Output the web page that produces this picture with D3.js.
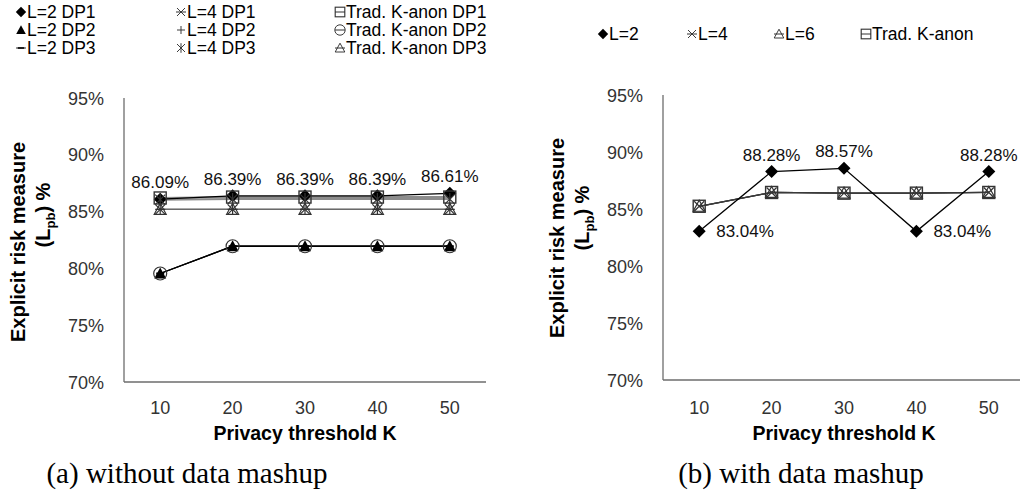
<!DOCTYPE html>
<html><head><meta charset="utf-8">
<script src="https://cdn.jsdelivr.net/npm/d3@7"></script>
<style>body{margin:0;background:#fff}svg{display:block}</style>
</head><body>
<svg id="c" width="1020" height="497"></svg>
<script>
// ---------- data ----------
const categories = ["10", "20", "30", "40", "50"];
const yTicks = [70, 75, 80, 85, 90, 95];

// (a) without data mashup
const aL2DP1 = [86.09, 86.39, 86.39, 86.39, 86.61];
const aL2DP2 = [79.55, 81.95, 81.95, 81.95, 81.95];
const aL2DP3 = [79.55, 81.95, 81.95, 81.95, 81.95];
const aL4DP1 = [85.2, 85.2, 85.2, 85.2, 85.2];
const aL4DP2 = [85.2, 85.2, 85.2, 85.2, 85.2];
const aL4DP3 = [86.05, 86.1, 86.1, 86.1, 86.1];
const aTradDP1 = [86.2, 86.28, 86.28, 86.28, 86.28];
const aTradDP2 = [79.55, 81.95, 81.95, 81.95, 81.95];
const aTradDP3 = [85.2, 85.2, 85.2, 85.2, 85.2];
const aLabels = ["86.09%", "86.39%", "86.39%", "86.39%", "86.61%"];

// (b) with data mashup
const bL2 = [83.04, 88.28, 88.57, 83.04, 88.28];
const bL4 = [85.24, 86.45, 86.39, 86.39, 86.45];
const bL6 = [85.24, 86.45, 86.39, 86.39, 86.45];
const bTrad = [85.24, 86.45, 86.39, 86.39, 86.45];
const bLabels = ["83.04%", "88.28%", "88.57%", "83.04%", "88.28%"];

// ---------- drawing ----------
const svg = d3.select("#c");
const FONT = "'Liberation Sans', Arial, sans-serif";

function marker(g, type, x, y, color) {
  const m = g.append("g").attr("transform", `translate(${x},${y})`);
  const c = color || "#000";
  switch (type) {
    case "diamond":
      m.append("path").attr("d", "M0,-6.5L6.5,0L0,6.5L-6.5,0Z").attr("fill", "#000"); break;
    case "triF":
      m.append("path").attr("d", "M0,-6L6,5L-6,5Z").attr("fill", "#000"); break;
    case "dash":
      m.append("path").attr("d", "M-4,0H4").attr("stroke", "#000").attr("stroke-width", 2); break;
    case "x":
      m.append("path").attr("d", "M-5,-5L5,5M-5,5L5,-5").attr("stroke", c).attr("stroke-width", 1.2).attr("fill", "none"); break;
    case "plus":
      m.append("path").attr("d", "M-5,0H5M0,-5V5").attr("stroke", c).attr("stroke-width", 1.2).attr("fill", "none"); break;
    case "star":
      m.append("path").attr("d", "M-5,-5L5,5M-5,5L5,-5M0,-6V6").attr("stroke", c).attr("stroke-width", 1.2).attr("fill", "none"); break;
    case "square":
      m.append("rect").attr("x", -6).attr("y", -6).attr("width", 12).attr("height", 12).attr("stroke", c).attr("stroke-width", 1.4).attr("fill", "none"); break;
    case "circle":
      m.append("circle").attr("r", 6.5).attr("stroke", c).attr("stroke-width", 1.2).attr("fill", "none"); break;
    case "triO":
      m.append("path").attr("d", "M0,-6L6,5L-6,5Z").attr("stroke", c).attr("stroke-width", 1.2).attr("fill", "none"); break;
  }
}

function panel(opts) {
  const x = d3.scaleBand().domain(categories).range([opts.x0, opts.x1]);
  const y = d3.scaleLinear().domain([70, 95]).range([opts.yb, opts.yt]);
  const g = svg.append("g");
  const cx = d => x(d) + x.bandwidth() / 2;

  // axes
  g.append("line").attr("x1", opts.x0).attr("x2", opts.x0).attr("y1", y(70)).attr("y2", y(95))
    .attr("stroke", "#6d6d6d").attr("stroke-width", 1.3);
  g.append("line").attr("x1", opts.x0).attr("x2", opts.x1).attr("y1", y(70)).attr("y2", y(70))
    .attr("stroke", "#6d6d6d").attr("stroke-width", 1.3);

  g.selectAll(".yt").data(yTicks).enter().append("text")
    .attr("x", opts.x0 - 20).attr("y", d => y(d) + 6.5)
    .attr("text-anchor", "end").attr("font-family", FONT).attr("font-size", 18).attr("fill", "#333")
    .text(d => d + "%");
  g.selectAll(".xt").data(categories).enter().append("text")
    .attr("x", d => cx(d)).attr("y", opts.xLabelY)
    .attr("text-anchor", "middle").attr("font-family", FONT).attr("font-size", 18).attr("fill", "#333")
    .text(d => d);

  // axis titles
  g.append("text").attr("x", opts.x0 + 181).attr("y", opts.xLabelY + 26)
    .attr("text-anchor", "middle").attr("font-family", FONT).attr("font-size", 19.5).attr("font-weight", "bold")
    .text("Privacy threshold K");
  g.append("text").attr("transform", `translate(${opts.x0 - 99},${opts.titleY1}) rotate(-90)`)
    .attr("text-anchor", "middle").attr("font-family", FONT).attr("font-size", 20).attr("font-weight", "bold")
    .text("Explicit risk measure");
  const t2 = g.append("text").attr("transform", `translate(${opts.x0 - 74},${opts.titleY2}) rotate(-90)`)
    .attr("text-anchor", "middle").attr("font-family", FONT).attr("font-size", 20).attr("font-weight", "bold");
  t2.append("tspan").text("(L");
  t2.append("tspan").attr("font-size", 13).attr("dy", 5).text("pb");
  t2.append("tspan").attr("dy", -5).text(") %");

  // series
  const line = d3.line().x((d, i) => cx(categories[i])).y(d => y(d));
  opts.series.forEach(s => {
    g.append("path").attr("d", line(s.values)).attr("fill", "none")
      .attr("stroke", s.line).attr("stroke-width", s.lw || 1.3);
  });
  opts.series.slice().reverse().forEach(s => {
    s.values.forEach((v, i) => marker(g, s.marker, cx(categories[i]), y(v), s.mc));
  });

  // data labels
  opts.labels.forEach((t, i) => {
    const v = opts.labelSeries[i];
    const right = opts.labelPos[i] === "right";
    g.append("text")
      .attr("x", right ? cx(categories[i]) + 17 : cx(categories[i]))
      .attr("y", right ? y(v) + 6 : y(v) - 11)
      .attr("text-anchor", right ? "start" : "middle")
      .attr("font-family", FONT).attr("font-size", 17).attr("fill", "#111")
      .text(t);
  });
}

panel({
  x0: 124, x1: 486, yb: 382, yt: 98, xLabelY: 414, titleY1: 242, titleY2: 215,
  series: [
    { values: aTradDP3, marker: "triO", line: "#8c8c8c", mc: "#333" },
    { values: aTradDP2, marker: "circle", line: "#8c8c8c", mc: "#333" },
    { values: aTradDP1, marker: "square", line: "#8c8c8c", mc: "#333", lw: 2 },
    { values: aL4DP3, marker: "star", line: "#8c8c8c", mc: "#333", lw: 2 },
    { values: aL4DP2, marker: "plus", line: "#6a6a6a", mc: "#333" },
    { values: aL4DP1, marker: "x", line: "#6a6a6a", mc: "#333" },
    { values: aL2DP3, marker: "dash", line: "#000" },
    { values: aL2DP2, marker: "triF", line: "#000" },
    { values: aL2DP1, marker: "diamond", line: "#000" }
  ],
  labels: aLabels, labelSeries: aL2DP1, labelPos: ["above", "above", "above", "above", "above"]
});

panel({
  x0: 663, x1: 1025, yb: 380, yt: 95, xLabelY: 414, titleY1: 238, titleY2: 218,
  series: [
    { values: bTrad, marker: "square", line: "#3a3a3a", mc: "#333" },
    { values: bL6, marker: "triO", line: "#3a3a3a", mc: "#333" },
    { values: bL4, marker: "x", line: "#3a3a3a", mc: "#333" },
    { values: bL2, marker: "diamond", line: "#000" }
  ],
  labels: bLabels, labelSeries: bL2, labelPos: ["right", "above", "above", "right", "above"]
});

// ---------- legends ----------
function legendItem(x, y, type, label, withLine) {
  const g = svg.append("g");
  if (withLine) g.append("path").attr("d", `M${x - 5},${y}H${x + 5}`).attr("stroke", "#333").attr("stroke-width", 1);
  const s = g.append("g").attr("transform", `translate(${x},${y}) scale(0.8)`);
  marker(s, type, 0, 0, "#333");
  g.append("text").attr("x", x + 6).attr("y", y + 6).attr("font-family", FONT).attr("font-size", 17.5).attr("fill", "#000").text(label);
}
const legA = [
  ["diamond", "L=2 DP1", 21, 12, false], ["triF", "L=2 DP2", 21, 30, false], ["dash", "L=2 DP3", 21, 48, true],
  ["x", "L=4 DP1", 181, 12, true], ["plus", "L=4 DP2", 181, 30, false], ["star", "L=4 DP3", 181, 48, false],
  ["square", "Trad. K-anon DP1", 340, 12, true], ["circle", "Trad. K-anon DP2", 340, 30, true], ["triO", "Trad. K-anon DP3", 340, 48, true]
];
legA.forEach(d => legendItem(d[2], d[3], d[0], d[1], d[4]));
const legB = [
  ["diamond", "L=2", 603, 34, false], ["x", "L=4", 692, 34, true], ["triO", "L=6", 779, 34, true], ["square", "Trad. K-anon", 866, 34, true]
];
legB.forEach(d => legendItem(d[2], d[3], d[0], d[1], d[4]));

// ---------- captions ----------
svg.append("text").attr("x", 187).attr("y", 483).attr("text-anchor", "middle")
  .attr("font-family", "'Liberation Serif', 'Times New Roman', serif").attr("font-size", 29).text("(a) without data mashup");
svg.append("text").attr("x", 801).attr("y", 483).attr("text-anchor", "middle")
  .attr("font-family", "'Liberation Serif', 'Times New Roman', serif").attr("font-size", 29).text("(b) with data mashup");
</script>
</body></html>
